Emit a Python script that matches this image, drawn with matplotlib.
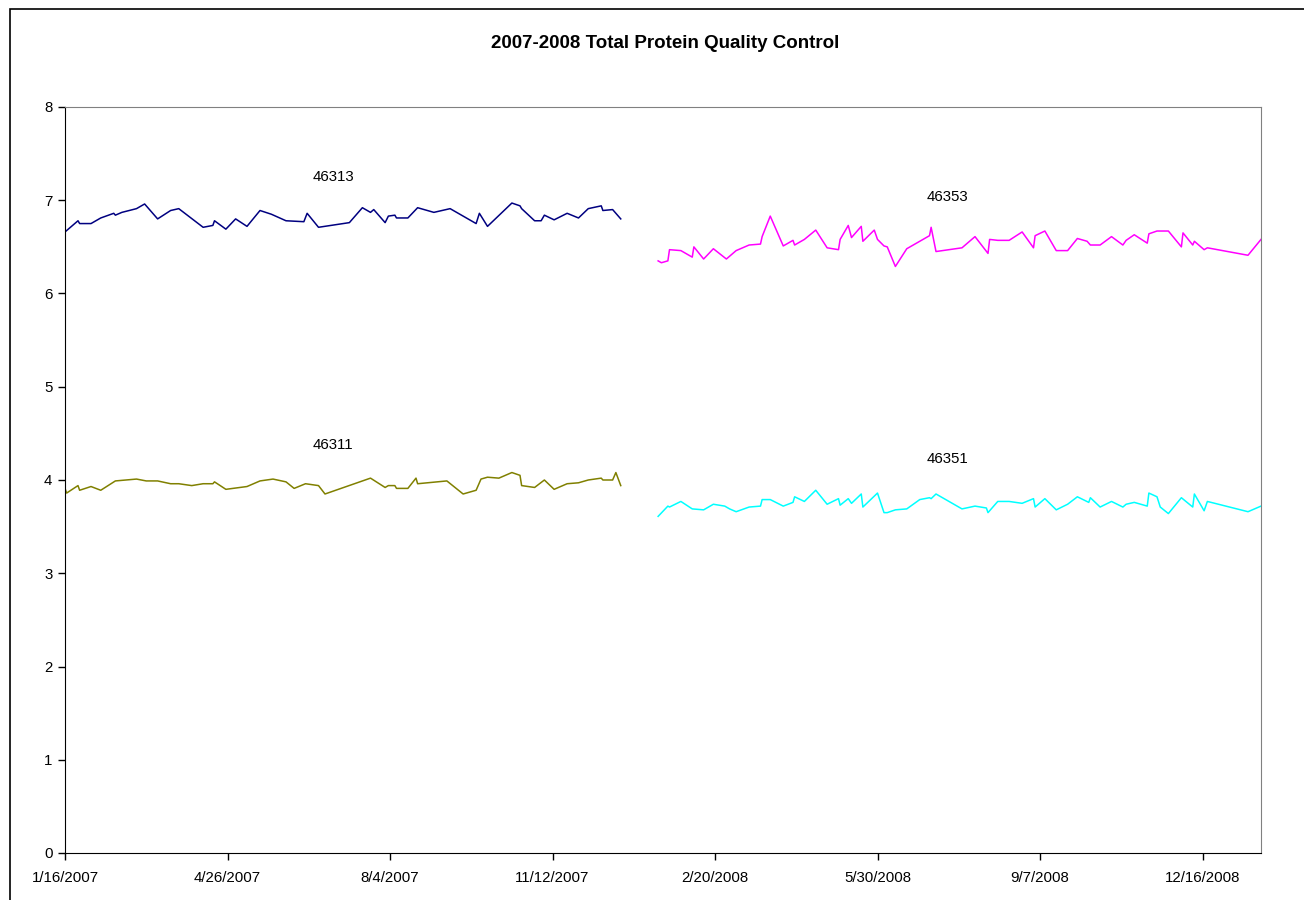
import datetime as dt
import matplotlib
matplotlib.use("Agg")
import matplotlib.pyplot as plt
from matplotlib.patches import Rectangle

plt.rcParams["font.family"] = ["Liberation Sans", "DejaVu Sans"]

START = dt.date(2007, 1, 16)

# days since 1/16/2007
days_46313 = [0, 8, 9, 16, 22, 30, 31, 35, 44, 49, 57, 65, 70, 85, 91, 92, 99, 105, 112, 120,
              127, 136, 147, 149, 156, 175, 183, 188, 190, 197, 199, 203, 204, 211, 217, 227, 237, 253, 255, 260,
              275, 280, 281, 289, 293, 295, 301, 309, 316, 322, 330, 331, 337, 342]
vals_46313 = [6.66, 6.78, 6.75, 6.75, 6.81, 6.86, 6.84, 6.87, 6.91, 6.96, 6.80, 6.89, 6.91, 6.71, 6.73, 6.78, 6.69, 6.80, 6.72, 6.89,
              6.85, 6.78, 6.77, 6.86, 6.71, 6.76, 6.92, 6.87, 6.90, 6.76, 6.83, 6.84, 6.81, 6.81, 6.92, 6.87, 6.91, 6.75, 6.86, 6.72,
              6.97, 6.94, 6.91, 6.78, 6.78, 6.84, 6.79, 6.86, 6.81, 6.91, 6.94, 6.89, 6.90, 6.80]

days_46311 = [0, 1, 8, 9, 16, 22, 31, 44, 50, 57, 65, 70, 78, 85, 91, 92, 99, 112, 120, 128,
              136, 141, 148, 156, 160, 188, 197, 199, 203, 204, 211, 216, 217, 235, 245, 253, 256, 260, 267,
              275, 280, 281, 289, 295, 301, 309, 316, 322, 330, 331, 337, 339, 342]
vals_46311 = [3.91, 3.86, 3.94, 3.89, 3.93, 3.89, 3.99, 4.01, 3.99, 3.99, 3.96, 3.96, 3.94, 3.96, 3.96, 3.98, 3.90, 3.93, 3.99, 4.01,
              3.98, 3.91, 3.96, 3.94, 3.85, 4.02, 3.92, 3.94, 3.94, 3.91, 3.91, 4.02, 3.96, 3.99, 3.85, 3.89, 4.01, 4.03, 4.02,
              4.08, 4.05, 3.94, 3.92, 4.00, 3.90, 3.96, 3.97, 4.00, 4.02, 4.00, 4.00, 4.08, 3.94]

days_46353 = [365, 367, 371, 372, 379, 386, 387, 393, 399, 407, 413, 421, 428, 429, 434, 442, 448, 449, 455, 462,
              469, 476, 477, 482, 484, 490, 491, 498, 500, 504, 506, 511, 518, 532, 533, 536, 552, 560, 568, 569,
              574, 581, 589, 596, 597, 603, 610, 617, 623, 629, 631, 637, 644, 651, 653, 658, 666, 667, 672, 679,
              687, 688, 694, 695, 701, 703, 728, 736]
vals_46353 = [6.35, 6.33, 6.35, 6.47, 6.46, 6.39, 6.50, 6.37, 6.48, 6.37, 6.46, 6.52, 6.53, 6.61, 6.83, 6.51, 6.57, 6.52, 6.58, 6.68,
              6.49, 6.47, 6.58, 6.73, 6.60, 6.72, 6.56, 6.68, 6.58, 6.51, 6.50, 6.29, 6.48, 6.62, 6.71, 6.45, 6.49, 6.61, 6.43, 6.58,
              6.57, 6.57, 6.66, 6.49, 6.62, 6.67, 6.46, 6.46, 6.59, 6.56, 6.52, 6.52, 6.61, 6.52, 6.57, 6.63, 6.54, 6.64, 6.67, 6.67,
              6.50, 6.65, 6.52, 6.56, 6.47, 6.49, 6.41, 6.58]

days_46351 = [365, 371, 372, 379, 386, 393, 399, 406, 409, 413, 421, 428, 429, 434, 442, 448, 449, 455, 462, 469,
              476, 477, 482, 484, 490, 491, 500, 504, 506, 511, 518, 526, 532, 533, 536, 552, 560, 567, 568, 574,
              581, 589, 596, 597, 603, 610, 617, 623, 630, 631, 637, 644, 651, 653, 658, 666, 667, 672, 674, 679,
              687, 694, 695, 701, 703, 728, 736]
vals_46351 = [3.61, 3.72, 3.71, 3.77, 3.69, 3.68, 3.74, 3.72, 3.69, 3.66, 3.71, 3.72, 3.79, 3.79, 3.72, 3.76, 3.82, 3.77, 3.89, 3.74,
              3.80, 3.73, 3.80, 3.75, 3.85, 3.71, 3.86, 3.65, 3.65, 3.68, 3.69, 3.79, 3.81, 3.80, 3.85, 3.69, 3.72, 3.70, 3.65, 3.77,
              3.77, 3.75, 3.80, 3.71, 3.80, 3.68, 3.74, 3.82, 3.76, 3.81, 3.71, 3.77, 3.71, 3.74, 3.76, 3.72, 3.86, 3.82, 3.71, 3.64,
              3.81, 3.71, 3.85, 3.67, 3.77, 3.66, 3.72]

series = [
    ("46313", days_46313, vals_46313, "#000080"),
    ("46311", days_46311, vals_46311, "#808000"),
    ("46353", days_46353, vals_46353, "#FF00FF"),
    ("46351", days_46351, vals_46351, "#00FFFF"),
]

# label positions (day, value)
labels = {"46313": (165, 7.25), "46311": (165, 4.38), "46353": (543, 7.03), "46351": (543, 4.23)}


def to_dates(days):
    return [START + dt.timedelta(days=d) for d in days]


fig = plt.figure(figsize=(13.04, 9.0), dpi=100)
ax = fig.add_axes([65 / 1304, 47 / 900, (1261 - 65) / 1304, (853 - 107) / 900])

for name, d, v, c in series:
    ax.plot(to_dates(d), v, color=c, lw=1.1)
    lx, ly = labels[name]
    ax.text(START + dt.timedelta(days=lx), ly, name, fontsize=10.8, ha="center", va="center")

ax.set_ylim(0, 8)
ax.set_yticks(range(0, 9))
ax.set_xlim(START, START + dt.timedelta(days=736))
xt = to_dates(range(0, 701, 100))
ax.set_xticks(xt)
ax.set_xticklabels([f"{t.month}/{t.day}/{t.year}" for t in xt])
ax.tick_params(direction="out", length=5, width=1, labelsize=10.8, pad=8, color="black")
ax.tick_params(axis="y", pad=4)

for s in ["top", "right"]:
    ax.spines[s].set_color("#808080")
for s in ["left", "bottom"]:
    ax.spines[s].set_color("black")

fig.text(0.5 * (487 + 844) / 1304, 1 - 43 / 900, "2007-2008 Total Protein Quality Control",
         ha="center", va="center", fontsize=13.5, fontweight="bold")

# outer chart frame
fig.patches.append(Rectangle((10 / 1304, -0.1), 1.1, 1.1 - 9 / 900, transform=fig.transFigure,
                             fill=False, edgecolor="black", lw=1.2))

fig.savefig("out.png", dpi=100)
